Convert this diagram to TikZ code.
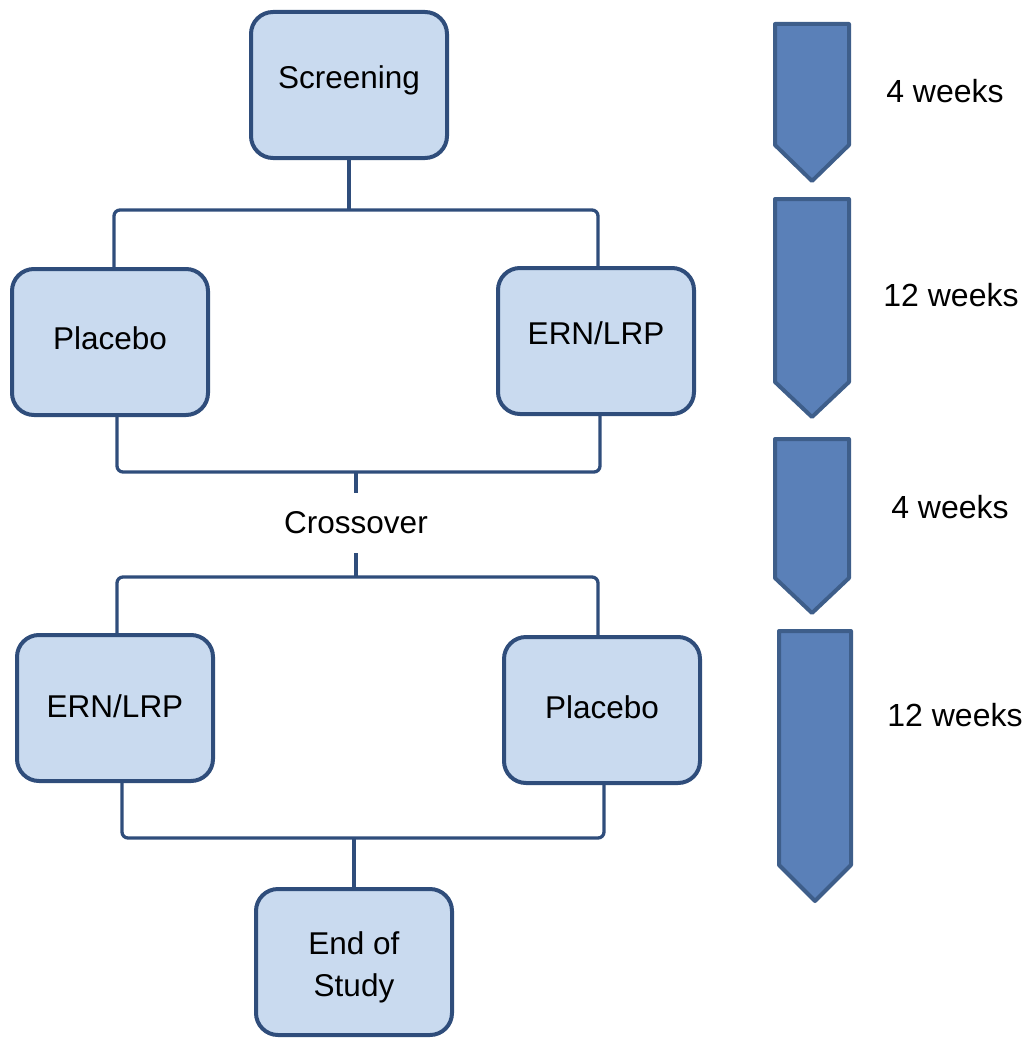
\documentclass[tikz,border=0pt]{standalone}
\usepackage{fontspec}
\setmainfont{Liberation Sans}
\usetikzlibrary{calc}
\definecolor{boxfill}{HTML}{C9DAEF}
\definecolor{boxline}{HTML}{2F4D7B}
\definecolor{arrfill}{HTML}{5A80B8}
\definecolor{arrline}{HTML}{3E5E8A}
\newcommand\liftt[2]{\raisebox{#1}[\height][\depth]{#2}}
\begin{document}
\begin{tikzpicture}[x=1pt,y=-1pt,
  box/.style={draw=boxline,line width=4pt,fill=boxfill,rounded corners=22pt,
    minimum width=196pt,minimum height=146pt,inner sep=0pt,align=center,
    font=\fontsize{31.5}{42}\selectfont},
  conn/.style={draw=boxline,line width=3.3pt,rounded corners=6pt},
  chev/.style={draw=arrline,line width=4pt,fill=arrfill,line join=round},
  lbl/.style={font=\fontsize{32}{38}\selectfont,inner sep=0pt}]
\useasboundingbox (0,0) rectangle (1029,1038);
% boxes
\node[box] (scr) at (349,85) {\liftt{5pt}{Screening}};
\node[box] (plc1) at (110,342) {\liftt{4pt}{Placebo}};
\node[box] (ern1) at (596,341) {\liftt{8pt}{ERN/LRP}};
\node[box] (ern2) at (115,708) {\liftt{2pt}{ERN/LRP}};
\node[box] (plc2) at (602,710) {\liftt{3pt}{Placebo}};
\node[box] (end) at (354,962) {\liftt{-5pt}{\begin{tabular}{@{}c@{}}End of\\Study\end{tabular}}};
\node[font=\fontsize{31.5}{38}\selectfont,inner sep=0pt,minimum height=60pt] (cross) at (356,523) {Crossover};
% junction points
\coordinate (b1) at (349,210);
\coordinate (b2) at (356,472);
\coordinate (b3) at (356,577);
\coordinate (b4) at (354,838);
% connectors
\draw[conn] (scr.south) -- (b1);
\draw[conn] ([xshift=4pt]plc1.north) |- (b1) -| ([xshift=2pt]ern1.north);
\draw[conn] ([xshift=7pt]plc1.south) |- (b2) -| ([xshift=4pt]ern1.south);
\draw[conn] (b2) -- (cross.north);
\draw[conn] (cross.south) -- (b3);
\draw[conn] ([xshift=2pt]ern2.north) |- (b3) -| ([xshift=-4pt]plc2.north);
\draw[conn] ([xshift=7pt]ern2.south) |- (b4) -| ([xshift=2pt]plc2.south);
\draw[conn] (b4) -- (end.north);
% timeline chevrons
\draw[chev] (775,24) -- (849,24) -- (849,145) -- (812,181) -- (775,145) -- cycle;
\draw[chev] (775,199) -- (849,199) -- (849,382) -- (812,417) -- (775,382) -- cycle;
\draw[chev] (775,439) -- (849,439) -- (849,578) -- (812,613) -- (775,578) -- cycle;
\draw[chev] (779,631) -- (851,631) -- (851,865) -- (815,901) -- (779,865) -- cycle;
% labels
\node[lbl] (w1) at (945,91) {4 weeks};
\node[lbl] (w2) at (951,295) {12 weeks};
\node[lbl] (w3) at (950,507) {4 weeks};
\node[lbl] (w4) at (955,715) {12 weeks};
\end{tikzpicture}
\end{document}
